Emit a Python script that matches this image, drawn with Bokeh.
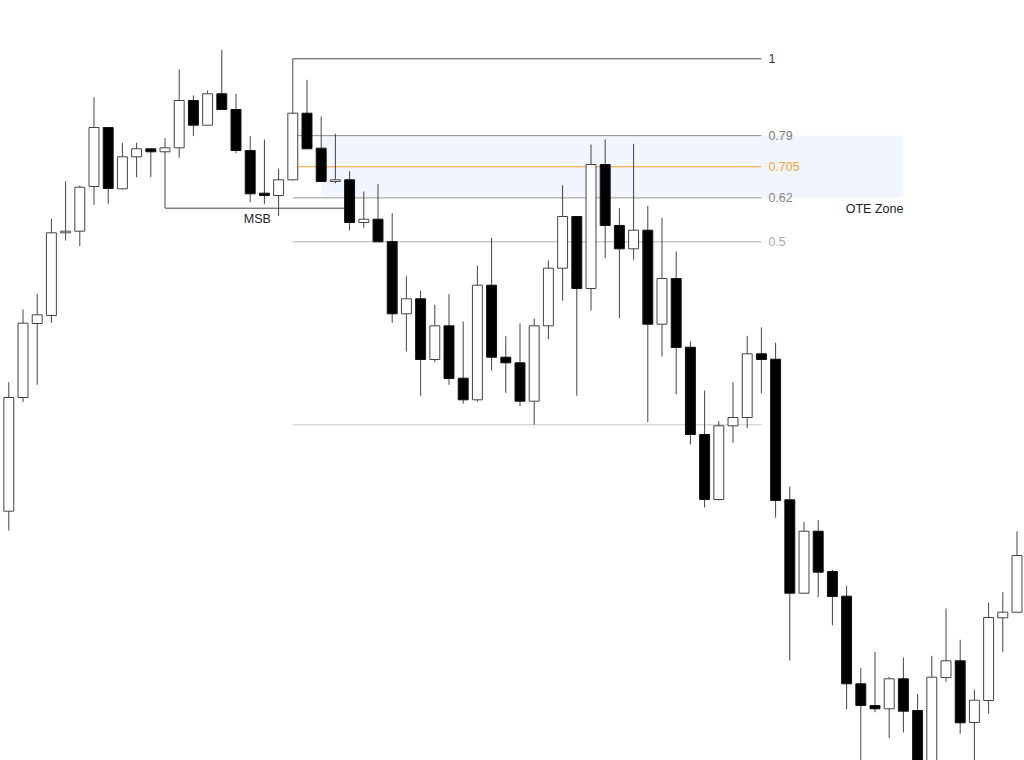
from bokeh.plotting import figure
from bokeh.models import Range1d, ColumnDataSource
from bokeh.core.properties import value
from bokeh.embed import file_html
from bokeh.resources import INLINE

# ---- candle data (price) ----
opens = [1.07393, 1.08530, 1.09270, 1.09350, 1.10177, 1.10193, 1.10640, 1.11230, 1.10617, 1.10937,
         1.11017, 1.10987, 1.11027, 1.11500, 1.11253, 1.11567, 1.11410, 1.11000, 1.10573, 1.10550,
         1.10707, 1.11373, 1.11023, 1.10690, 1.10707, 1.10280, 1.10313, 1.10090, 1.09367, 1.09517,
         1.08910, 1.09247, 1.08723, 1.08507, 1.09653, 1.08933, 1.08877, 1.08493, 1.09247, 1.09823,
         1.10340, 1.09620, 1.10860, 1.10250, 1.10017, 1.10203, 1.09263, 1.09720, 1.09033, 1.08160,
         1.07510, 1.08247, 1.08330, 1.08967, 1.08913, 1.07507, 1.06573, 1.07193, 1.06790, 1.06543,
         1.05667, 1.05450, 1.05417, 1.05717, 1.05400, 1.04740, 1.05730, 1.05897, 1.05280, 1.05500,
         1.06327, 1.06383]
highs = [1.08683, 1.09410, 1.09567, 1.10317, 1.10693, 1.10650, 1.11533, 1.11230, 1.11077, 1.11077,
         1.11020, 1.11123, 1.11810, 1.11550, 1.11600, 1.12007, 1.11567, 1.11143, 1.11110, 1.10817,
         1.11917, 1.11707, 1.11340, 1.11167, 1.10793, 1.10590, 1.10667, 1.10373, 1.09743, 1.09597,
         1.09457, 1.09563, 1.09290, 1.09850, 1.10127, 1.09143, 1.09270, 1.09320, 1.09900, 1.10653,
         1.10343, 1.11060, 1.11110, 1.10423, 1.11067, 1.10447, 1.10327, 1.09990, 1.09093, 1.08600,
         1.08293, 1.08683, 1.09147, 1.09230, 1.09077, 1.07640, 1.07287, 1.07303, 1.06807, 1.06647,
         1.05823, 1.05987, 1.05737, 1.05930, 1.05563, 1.05947, 1.06420, 1.06107, 1.05610, 1.06477,
         1.06583, 1.07193]
lows = [1.07200, 1.08483, 1.08657, 1.09277, 1.10100, 1.10043, 1.10457, 1.10467, 1.10610, 1.10733,
        1.10733, 1.10985, 1.10927, 1.11143, 1.11253, 1.11410, 1.10973, 1.10483, 1.10467, 1.10343,
        1.10700, 1.11017, 1.10690, 1.10673, 1.10200, 1.10227, 1.10087, 1.09277, 1.08990, 1.08547,
        1.08883, 1.08657, 1.08467, 1.08487, 1.08800, 1.08577, 1.08443, 1.08257, 1.09113, 1.09497,
        1.08547, 1.09400, 1.09923, 1.09323, 1.09907, 1.08283, 1.08940, 1.08563, 1.08060, 1.07430,
        1.07500, 1.08077, 1.08223, 1.08573, 1.07327, 1.05900, 1.06567, 1.06533, 1.06253, 1.05410,
        1.04780, 1.05383, 1.05123, 1.05180, 1.04600, 1.04650, 1.05687, 1.05167, 1.04780, 1.05370,
        1.05987, 1.06383]
closes = [1.08530, 1.09273, 1.09357, 1.10177, 1.10193, 1.10633, 1.11230, 1.10620, 1.10937, 1.11017,
          1.10987, 1.11027, 1.11500, 1.11253, 1.11567, 1.11410, 1.11000, 1.10567, 1.10550, 1.10707,
          1.11373, 1.11017, 1.10690, 1.10707, 1.10280, 1.10313, 1.10087, 1.09367, 1.09517, 1.08910,
          1.09247, 1.08720, 1.08507, 1.09653, 1.08933, 1.08877, 1.08493, 1.09247, 1.09823, 1.10340,
          1.09620, 1.10860, 1.10250, 1.10017, 1.10203, 1.09263, 1.09720, 1.09030, 1.08160, 1.07510,
          1.08247, 1.08330, 1.08967, 1.08910, 1.07500, 1.06573, 1.07193, 1.06783, 1.06540, 1.05667,
          1.05450, 1.05417, 1.05717, 1.05393, 1.04740, 1.05733, 1.05897, 1.05277, 1.05503, 1.06330,
          1.06383, 1.06950]

# ---- annotation settings ----
fib_levels = [1, 0.79, 0.705, 0.62, 0.5, 0]
fib_labels = ["1", "0.79", "0.705", "0.62", "0.5", ""]
fib_line_colors = ["#444444", "#8a8a8a", "#f5a623", "#9a9a9a", "#b0b0b0", "#c8c8c8"]
fib_text_colors = ["#333333", "#7a7a7a", "#f5a623", "#858585", "#aaaaaa", "#aaaaaa"]
swing_high_idx = 20
swing_low_idx = 37
fib_end_idx = 53
zone_start_idx = 22
zone_end_idx = 63
msb_start_idx = 11
msb_end_idx = 24
msb_price = 1.10423

n = len(opens)
xs = list(range(n))
swing_high = highs[swing_high_idx]
swing_low = lows[swing_low_idx]
fib_prices = [swing_low + lv * (swing_high - swing_low) for lv in fib_levels]

p = figure(width=1024, height=760, output_backend="svg", toolbar_location=None,
           x_range=Range1d(-0.5845, 71.528), y_range=Range1d(1.0490, 1.1250),
           x_axis_location=None, y_axis_location=None, min_border=0)
p.grid.visible = False
p.outline_line_color = None
p.background_fill_color = "white"
p.border_fill_color = "white"

FONT = value("Liberation Sans")
FS = "12.5px"

# OTE zone
p.quad(left=[zone_start_idx], right=[zone_end_idx], top=[fib_prices[1]], bottom=[fib_prices[3]],
       fill_color="#f0f5fe", line_color=None)

# fib lines
fsrc = ColumnDataSource(dict(x0=[swing_high_idx] * len(fib_levels), x1=[fib_end_idx] * len(fib_levels),
                             y=fib_prices, lc=fib_line_colors, tc=fib_text_colors, t=fib_labels,
                             xt=[fib_end_idx] * len(fib_levels)))
p.segment(x0="x0", y0="y", x1="x1", y1="y", line_color="lc", line_width=1, source=fsrc)
p.text(x="xt", y="y", text="t", text_color="tc", source=fsrc, x_offset=7,
       text_font=FONT, text_font_size=FS, text_baseline="middle", text_align="left")

p.text(x=[zone_end_idx], y=[fib_prices[3]], text=["OTE Zone"], y_offset=11,
       text_font=FONT, text_font_size=FS, text_baseline="middle",
       text_align="right", text_color="#222222")

# MSB bracket
p.segment(x0=[msb_start_idx, msb_start_idx], y0=[lows[msb_start_idx], msb_price],
          x1=[msb_start_idx, msb_end_idx], y1=[msb_price, msb_price], line_color="#444444", line_width=1)
p.text(x=[(msb_start_idx + msb_end_idx) / 2], y=[msb_price], text=["MSB"], y_offset=11,
       text_font=FONT, text_font_size=FS, text_baseline="middle",
       text_align="center", text_color="#222222")

# candles
up = [c >= o for o, c in zip(opens, closes)]
csrc = ColumnDataSource(dict(
    x=xs, high=highs, low=lows,
    top=[max(o, c) for o, c in zip(opens, closes)],
    bottom=[min(o, c) for o, c in zip(opens, closes)],
    fill=["white" if u else "black" for u in up],
    line=["#444444" if u else "#111111" for u in up],
))
p.segment(x0="x", y0="high", x1="x", y1="low", line_color="#444444", line_width=1, source=csrc)
p.vbar(x="x", width=0.7, top="top", bottom="bottom", fill_color="fill", line_color="line",
       line_width=1, source=csrc)

open("out.html", "w").write(file_html(p, INLINE))
